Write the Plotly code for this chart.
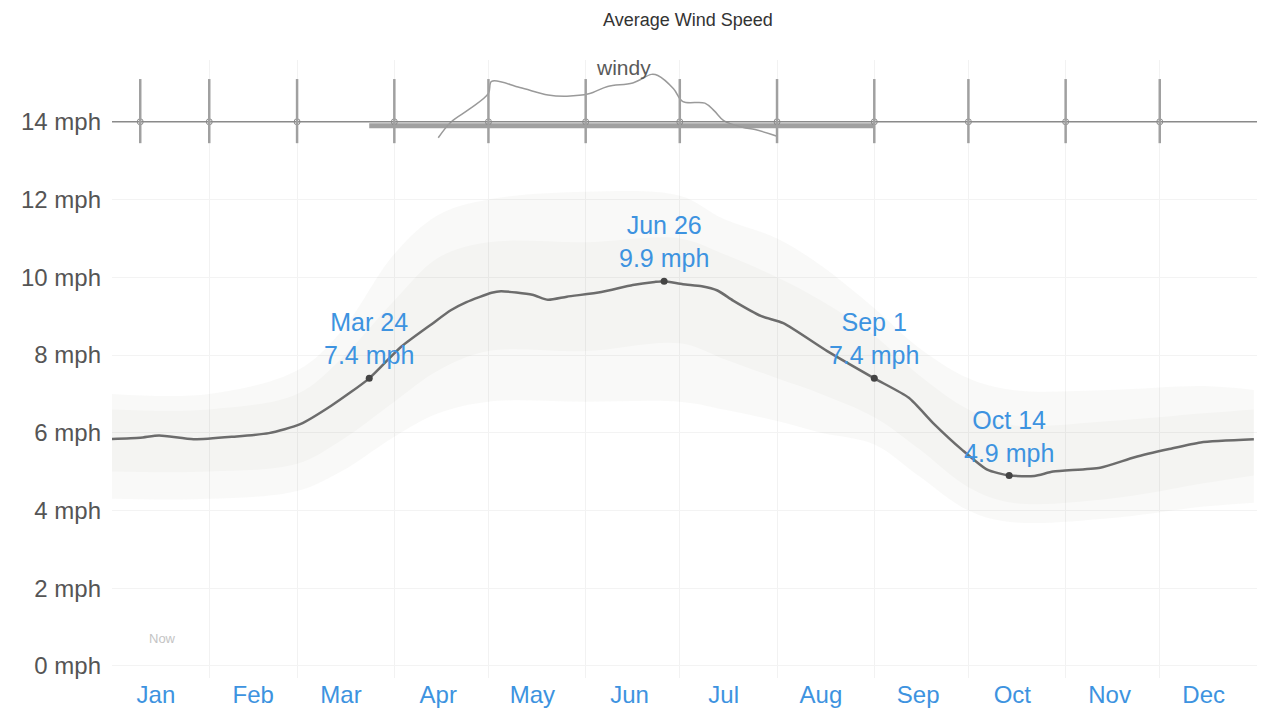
import plotly.graph_objects as go

# ---- data -------------------------------------------------------------
# Average hourly wind speed (mph) through the year
avg_dates = [
    "2023-01-01", "2023-01-10", "2023-01-16", "2023-01-27", "2023-02-09", "2023-02-20",
    "2023-03-02", "2023-03-12", "2023-03-24", "2023-04-03", "2023-04-13", "2023-04-19",
    "2023-04-24", "2023-05-02", "2023-05-05", "2023-05-15", "2023-05-20", "2023-05-26",
    "2023-06-06", "2023-06-16", "2023-06-23", "2023-06-26", "2023-07-02", "2023-07-08",
    "2023-07-13", "2023-07-18", "2023-07-27", "2023-08-03", "2023-08-17", "2023-09-01",
    "2023-09-12", "2023-09-20", "2023-09-29", "2023-10-07", "2023-10-14", "2023-10-22",
    "2023-10-28", "2023-11-12", "2023-11-23", "2023-12-04", "2023-12-14", "2023-12-31",
]
avg_mph = [
    5.84, 5.87, 5.93, 5.83, 5.90, 5.99,
    6.22, 6.70, 7.40, 8.20, 8.80, 9.15,
    9.36, 9.60, 9.64, 9.55, 9.42, 9.50,
    9.62, 9.80, 9.88, 9.90, 9.82, 9.77,
    9.66, 9.40, 9.00, 8.82, 8.10, 7.40,
    6.90, 6.23, 5.56, 5.05, 4.90, 4.89,
    5.00, 5.10, 5.37, 5.58, 5.75, 5.83,
]

# Percentile bands (mph)
band_dates = [
    "2023-01-01", "2023-02-01", "2023-03-01", "2023-03-15", "2023-04-01", "2023-04-15",
    "2023-05-01", "2023-06-01", "2023-07-01", "2023-07-15", "2023-08-01", "2023-08-15",
    "2023-09-01", "2023-09-15", "2023-10-01", "2023-10-15", "2023-11-15", "2023-12-15",
    "2023-12-31",
]
p10 = [4.3, 4.3, 4.5, 5.0, 5.9, 6.5, 6.8, 6.8, 6.8, 6.6, 6.3, 6.0, 5.7, 4.9, 4.0, 3.7, 3.8, 4.1, 4.2]
p90 = [7.0, 7.0, 7.6, 8.6, 10.6, 11.6, 12.0, 12.2, 12.1, 11.5, 11.0, 10.3, 9.2, 8.2, 7.4, 7.1, 7.1, 7.2, 7.1]
p25 = [5.0, 5.0, 5.2, 5.8, 6.8, 7.6, 8.1, 8.1, 8.3, 7.9, 7.4, 7.0, 6.4, 5.6, 4.6, 4.2, 4.3, 4.7, 4.9]
p75 = [6.6, 6.6, 7.0, 7.9, 9.4, 10.5, 10.9, 10.9, 11.0, 10.6, 10.0, 9.4, 8.5, 7.5, 6.6, 6.2, 6.3, 6.5, 6.6]

# Highlighted days
marked_dates = ["2023-03-24", "2023-06-26", "2023-09-01", "2023-10-14"]
marked_names = ["Mar 24", "Jun 26", "Sep 1", "Oct 14"]

# Windier season bar along the 14 mph line
windy_season = ["2023-03-24", "2023-09-01"]

# "windy" strip trace above the 14 mph line
windy_dates = [
    "2023-04-15", "2023-04-19", "2023-04-25", "2023-05-01", "2023-05-02", "2023-05-11",
    "2023-05-20", "2023-05-26", "2023-06-02", "2023-06-08", "2023-06-16", "2023-06-22",
    "2023-06-24", "2023-06-29", "2023-07-02", "2023-07-09", "2023-07-12", "2023-07-15",
    "2023-07-21", "2023-07-25", "2023-08-01",
]
windy_mph = [
    13.59, 13.99, 14.33, 14.73, 15.04, 14.88,
    14.69, 14.66, 14.72, 14.91, 15.00, 15.22,
    15.19, 14.85, 14.52, 14.48, 14.28, 14.03,
    13.86, 13.80, 13.63,
]

# Month tick marks in the top strip
strip_ticks = [
    "2023-01-10", "2023-02-01", "2023-03-01", "2023-04-01", "2023-05-01", "2023-06-01",
    "2023-07-01", "2023-08-01", "2023-09-01", "2023-10-01", "2023-11-01", "2023-12-01",
]

month_mid = [f"2023-{m:02d}-15" for m in range(1, 13)]
month_names = ["Jan", "Feb", "Mar", "Apr", "May", "Jun",
               "Jul", "Aug", "Sep", "Oct", "Nov", "Dec"]
y_ticks = [0, 2, 4, 6, 8, 10, 12, 14]

# ---- styling ----------------------------------------------------------
BLUE = "#3d93e0"
LINE = "#6c6c6c"
FONT = "Liberation Sans, Arial, sans-serif"

fig = go.Figure()

# 10th-90th percentile band
fig.add_trace(go.Scatter(x=band_dates, y=p10, mode="lines", line=dict(width=0, shape="spline"),
                         hoverinfo="skip", showlegend=False))
fig.add_trace(go.Scatter(x=band_dates, y=p90, mode="lines", line=dict(width=0, shape="spline"),
                         fill="tonexty", fillcolor="rgba(120,120,100,0.045)",
                         hoverinfo="skip", showlegend=False))
# 25th-75th percentile band
fig.add_trace(go.Scatter(x=band_dates, y=p25, mode="lines", line=dict(width=0, shape="spline"),
                         hoverinfo="skip", showlegend=False))
fig.add_trace(go.Scatter(x=band_dates, y=p75, mode="lines", line=dict(width=0, shape="spline"),
                         fill="tonexty", fillcolor="rgba(120,120,100,0.04)",
                         hoverinfo="skip", showlegend=False))

# average wind speed
fig.add_trace(go.Scatter(x=avg_dates, y=avg_mph, mode="lines",
                         line=dict(color=LINE, width=2.5, shape="spline", smoothing=0.6),
                         showlegend=False))

# highlighted points and their labels
marked_vals = [avg_mph[avg_dates.index(d)] for d in marked_dates]
fig.add_trace(go.Scatter(x=marked_dates, y=marked_vals, mode="markers",
                         marker=dict(color="#444", size=7), showlegend=False))
for d, name, v in zip(marked_dates, marked_names, marked_vals):
    fig.add_annotation(x=d, y=v, text=f"{name}<br>{v:.1f} mph", showarrow=False,
                       yanchor="bottom", yshift=7,
                       font=dict(family=FONT, size=25, color=BLUE))

# 14 mph strip line
fig.add_hline(y=14, line=dict(color="#8a8a8a", width=1.5))
fig.add_trace(go.Scatter(x=windy_season, y=[13.9, 13.9], mode="lines",
                         line=dict(color="#a0a0a0", width=5), showlegend=False))
for d in strip_ticks:
    fig.add_shape(type="line", x0=d, x1=d, y0=13.45, y1=15.1, xref="x", yref="y",
                  line=dict(color="#a0a0a0", width=2.5))
fig.add_trace(go.Scatter(x=strip_ticks, y=[14] * len(strip_ticks), mode="markers",
                         marker=dict(symbol="circle-open", size=6, color="#8a8a8a"),
                         showlegend=False))
fig.add_trace(go.Scatter(x=windy_dates, y=windy_mph, mode="lines",
                         line=dict(color="#9a9a9a", width=1.5, shape="spline"),
                         showlegend=False))
fig.add_annotation(x="2023-06-13", y=15.41, text="windy", showarrow=False,
                   yanchor="middle", font=dict(family=FONT, size=21, color="#5a5a5a"))

# faint "Now" marker text
fig.add_annotation(x="2023-01-12", y=0.7, text="Now", showarrow=False, xanchor="left",
                   font=dict(family=FONT, size=13, color="#c4c4c4"))

fig.update_layout(
    width=1267, height=718,
    margin=dict(l=112, r=10, t=60, b=38),
    paper_bgcolor="white", plot_bgcolor="white",
    title=dict(text="Average Wind Speed", x=0.543, xanchor="center", y=0.972, yanchor="middle",
               font=dict(family=FONT, size=18, color="#333")),
    showlegend=False,
)
fig.update_xaxes(
    type="date", range=["2023-01-01", "2024-01-01"],
    tickvals=month_mid, ticktext=month_names, ticks="",
    tickfont=dict(family=FONT, size=24, color=BLUE),
    showgrid=False, zeroline=False, showline=False,
    minor=dict(dtick="M1", tick0="2023-01-01", showgrid=True, gridcolor="#f2f2f2", ticks=""),
)
fig.update_yaxes(
    range=[-0.31, 15.59], tickvals=y_ticks, ticktext=[f"{v} mph" for v in y_ticks],
    tickfont=dict(family=FONT, size=24, color="#555"), ticks="", ticklabelstandoff=10,
    showgrid=True, gridcolor="#f3f3f3", zeroline=False, showline=False,
)

fig.write_html("out.html")
